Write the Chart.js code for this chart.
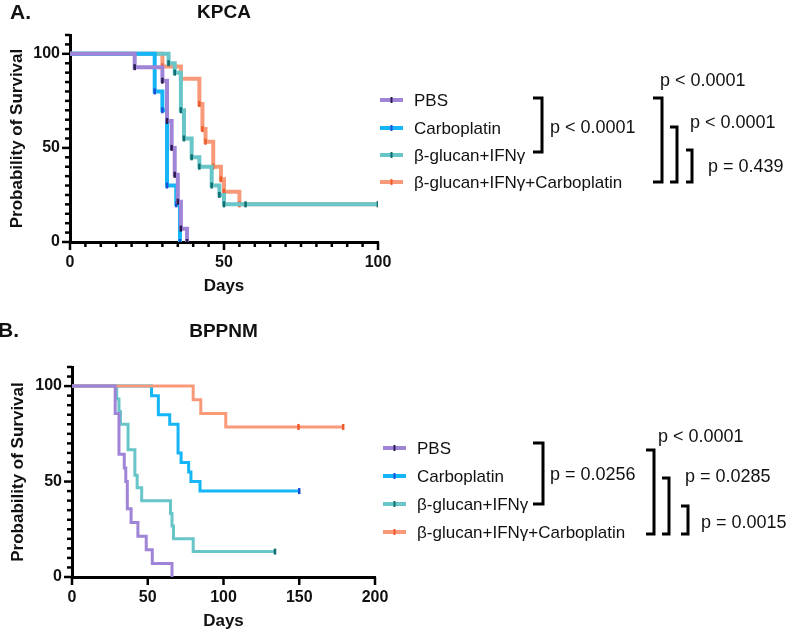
<!DOCTYPE html>
<html>
<head>
<meta charset="utf-8">
<script src="https://cdn.jsdelivr.net/npm/chart.js@4.4.1/dist/chart.umd.min.js"></script>
<style>
  html, body { margin: 0; padding: 0; background: #fff; }
  #wrap { position: relative; width: 787px; height: 637px; overflow: hidden; }
  #chartA { position: absolute; left: 0; top: 0; }
  #chartB { position: absolute; left: 0; top: 300px; }
</style>
</head>
<body>
<div id="wrap">
  <canvas id="chartA" width="787" height="300"></canvas>
  <canvas id="chartB" width="787" height="337"></canvas>
</div>
<script>
/* ── Data ───────────────────────────── */
const groupNames = ['PBS', 'Carboplatin', 'β-glucan+IFNγ', 'β-glucan+IFNγ+Carboplatin'];

// KPCA (panel A)
const kpcaPbsDays    = [0, 21, 30, 31.5, 33, 34, 35, 36, 38];
const kpcaPbsSurv    = [100, 92.9, 85.7, 64.3, 50, 35.7, 21.4, 7.1, 0];
const kpcaCarboDays  = [0, 27.5, 30, 31.5, 34.5, 35.7];
const kpcaCarboSurv  = [100, 80, 70, 30, 20, 0];
const kpcaBgDays     = [0, 32, 34, 36, 37, 39.5, 42, 46, 48.5, 50];
const kpcaBgSurv     = [100, 95, 90, 70, 55, 45, 40, 30, 25, 20];
const kpcaComboDays  = [0, 30, 36, 42, 43, 44, 46.5, 49, 50, 55];
const kpcaComboSurv  = [100, 93.3, 86.7, 73.3, 60, 53.3, 40, 33.3, 26.7, 20];
const kpcaCensorDays = [[], [], [57, 100], [100]];
const kpcaPValues    = ['p < 0.0001', 'p < 0.0001', 'p < 0.0001', 'p = 0.439'];

// BPPNM (panel B)
const bppnmPbsDays    = [0, 28.5, 31, 34.5, 35.5, 36.5, 39, 43.5, 49, 53, 66];
const bppnmPbsSurv    = [100, 85.7, 64.3, 57.1, 50, 35.7, 28.6, 21.4, 14.3, 7.1, 0];
const bppnmCarboDays  = [0, 52.5, 57, 64.5, 70, 72, 77, 78.5, 84.5];
const bppnmCarboSurv  = [100, 95, 85, 80, 65, 60, 55, 50, 45];
const bppnmBgDays     = [0, 29.5, 31, 32, 37, 41.5, 43, 46, 65, 66, 67, 80];
const bppnmBgSurv     = [100, 93.3, 86.7, 80, 66.7, 53.3, 46.7, 40, 33.3, 26.7, 20, 13.3];
const bppnmComboDays  = [0, 80, 85, 101.5];
const bppnmComboSurv  = [100, 92.9, 85.7, 78.6];
const bppnmCensorDays = [[], [150], [134], [149.5, 179]];
const bppnmPValues    = ['p = 0.0256', 'p < 0.0001', 'p = 0.0285', 'p = 0.0015'];

const yTicks = [0, 50, 100];

/* ── Styles ─────────────────────────── */
const lineColors = ['#9f84d8', '#14b6f7', '#68c5c8', '#f89a79'];
const markColors = ['#2b1d4f', '#1b4fd8', '#0e6d6e', '#ee5a2a'];
const FONT = "'Liberation Sans', Arial, sans-serif";
Chart.defaults.font.family = FONT;
Chart.defaults.color = '#111';

function kmPoints(days, surv, censor) {
  const pts = days.map((d, i) => ({ x: d, y: surv[i], ev: i > 0 }));
  const last = surv[surv.length - 1];
  censor.forEach(d => pts.push({ x: d, y: last, cen: true }));
  return pts;
}

/* ── Decorations: ticks, titles, legend, brackets ── */
function decor(cfg) {
  return {
    id: 'decor',
    afterDraw(chart) {
      const ctx = chart.ctx;
      const xs = chart.scales.x, ys = chart.scales.y;
      ctx.save();
      ctx.strokeStyle = '#000';
      ctx.lineWidth = 2.5;
      ctx.lineCap = 'butt';
      xs.ticks.forEach(t => {
        const px = xs.getPixelForValue(t.value);
        const len = t.value % 50 === 0 ? 8 : 5;
        ctx.beginPath(); ctx.moveTo(px, xs.top); ctx.lineTo(px, xs.top + len); ctx.stroke();
      });
      ys.ticks.forEach(t => {
        const py = ys.getPixelForValue(t.value);
        const len = t.value % 50 === 0 ? 8 : 5;
        ctx.beginPath(); ctx.moveTo(ys.right, py); ctx.lineTo(ys.right - len, py); ctx.stroke();
      });

      // panel letter + title
      ctx.fillStyle = '#111';
      ctx.textBaseline = 'middle';
      ctx.font = 'bold 21px ' + FONT;
      ctx.textAlign = 'left';
      ctx.fillText(cfg.letter, cfg.letterX, cfg.letterY);
      ctx.font = 'bold 19px ' + FONT;
      ctx.textAlign = 'center';
      ctx.fillText(cfg.title, (chart.chartArea.left + chart.chartArea.right) / 2, cfg.titleY);

      // legend
      ctx.font = '17px ' + FONT;
      ctx.textAlign = 'left';
      groupNames.forEach((name, i) => {
        const y = cfg.legendY[i];
        ctx.strokeStyle = lineColors[i];
        ctx.lineWidth = 4;
        ctx.beginPath(); ctx.moveTo(cfg.legendX, y); ctx.lineTo(cfg.legendX + 23, y); ctx.stroke();
        ctx.strokeStyle = markColors[i];
        ctx.lineWidth = 2;
        const mx = cfg.legendX + 11.5;
        ctx.beginPath(); ctx.moveTo(mx, y - 3); ctx.lineTo(mx, y + 3); ctx.stroke();
        ctx.fillStyle = '#111';
        ctx.fillText(name, cfg.legendX + 34, y + 1);
      });

      // comparison brackets
      ctx.strokeStyle = '#000';
      ctx.lineWidth = 3;
      ctx.lineJoin = 'miter';
      ctx.font = '18px ' + FONT;
      cfg.brackets.forEach((b, i) => {
        ctx.beginPath();
        ctx.moveTo(b.x - b.stub, b.top);
        ctx.lineTo(b.x, b.top);
        ctx.lineTo(b.x, b.bottom);
        ctx.lineTo(b.x - b.stub, b.bottom);
        ctx.stroke();
        ctx.fillText(cfg.pValues[i], b.tx, b.ty);
      });
      ctx.restore();
    }
  };
}

function makeChart(id, series, censors, xMax, xStep, lineW, showEvents, order, yTitlePad, xTitlePad, xAxisH, yAxisW, padTop, padRight, cfg) {
  const datasets = series.map((s, i) => ({
    label: groupNames[i],
    data: kmPoints(s[0], s[1], censors[i]),
    stepped: true,
    borderColor: lineColors[i],
    borderWidth: lineW,
    fill: false,
    order: order[i],
    pointStyle: 'line',
    rotation: 90,
    pointBorderColor: markColors[i],
    pointBorderWidth: 2.5,
    pointRadius: c => {
      const r = c.raw;
      if (!r) return 0;
      return (showEvents && r.ev) || r.cen ? 3 : 0;
    },
    pointHoverRadius: 0
  }));

  return new Chart(document.getElementById(id), {
    type: 'line',
    data: { datasets },
    options: {
      responsive: false,
      animation: false,
      events: [],
      layout: { padding: { left: 0, top: padTop, right: padRight, bottom: 0 } },
      plugins: { legend: { display: false }, tooltip: { enabled: false }, title: { display: false } },
      scales: {
        x: {
          type: 'linear',
          min: 0, max: xMax,
          grid: { display: false, drawTicks: false },
          border: { display: true, color: '#000', width: 3 },
          ticks: {
            stepSize: xStep, autoSkip: false, maxRotation: 0, minRotation: 0, padding: 11,
            font: { size: 16, weight: 'bold' },
            callback: v => (v % 50 === 0 ? v : '')
          },
          title: { display: true, text: 'Days', font: { size: 17, weight: 'bold' }, padding: { top: 0, bottom: xTitlePad } },
          afterFit: s => { s.height = xAxisH; }
        },
        y: {
          type: 'linear',
          min: 0, max: 110,
          grid: { display: false, drawTicks: false },
          border: { display: true, color: '#000', width: 3 },
          ticks: {
            stepSize: 5, autoSkip: false, padding: 10,
            font: { size: 16, weight: 'bold' },
            callback: v => (yTicks.includes(v) ? v : '')
          },
          title: { display: true, text: 'Probability of Survival', font: { size: 17, weight: 'bold' }, padding: { top: yTitlePad, bottom: 0 } },
          afterFit: s => { s.width = yAxisW; }
        }
      }
    },
    plugins: [decor(cfg)]
  });
}

/* ── Panel A: KPCA ──────────────────── */
makeChart('chartA',
  [[kpcaPbsDays, kpcaPbsSurv], [kpcaCarboDays, kpcaCarboSurv], [kpcaBgDays, kpcaBgSurv], [kpcaComboDays, kpcaComboSurv]],
  kpcaCensorDays, 100, 5, 4, true, [0, 1, 2, 3], 7, 3, 58, 70, 35, 409,
  {
    letter: 'A.', letterX: 10, letterY: 13, title: 'KPCA', titleY: 13,
    legendX: 380, legendY: [100, 128, 155, 182],
    pValues: kpcaPValues,
    brackets: [
      { x: 542, top: 98,  bottom: 152, stub: 9, tx: 550, ty: 128 },
      { x: 662, top: 98,  bottom: 182, stub: 9, tx: 660, ty: 81 },
      { x: 677, top: 127, bottom: 182, stub: 7, tx: 690, ty: 123 },
      { x: 692, top: 150, bottom: 182, stub: 6, tx: 708, ty: 167 }
    ]
  });

/* ── Panel B: BPPNM ─────────────────── */
makeChart('chartB',
  [[bppnmPbsDays, bppnmPbsSurv], [bppnmCarboDays, bppnmCarboSurv], [bppnmBgDays, bppnmBgSurv], [bppnmComboDays, bppnmComboSurv]],
  bppnmCensorDays, 200, 50, 3, false, [0, 3, 2, 1], 8, 5, 60, 72, 67, 412,
  {
    letter: 'B.', letterX: -2, letterY: 31, title: 'BPPNM', titleY: 32,
    legendX: 383, legendY: [148, 176, 204, 232],
    pValues: bppnmPValues,
    brackets: [
      { x: 543, top: 143, bottom: 204, stub: 10, tx: 550, ty: 175 },
      { x: 654, top: 150, bottom: 234, stub: 8,  tx: 658, ty: 137 },
      { x: 669, top: 178, bottom: 234, stub: 7,  tx: 685, ty: 177 },
      { x: 688, top: 206, bottom: 234, stub: 7,  tx: 701, ty: 223 }
    ]
  });
</script>
</body>
</html>
